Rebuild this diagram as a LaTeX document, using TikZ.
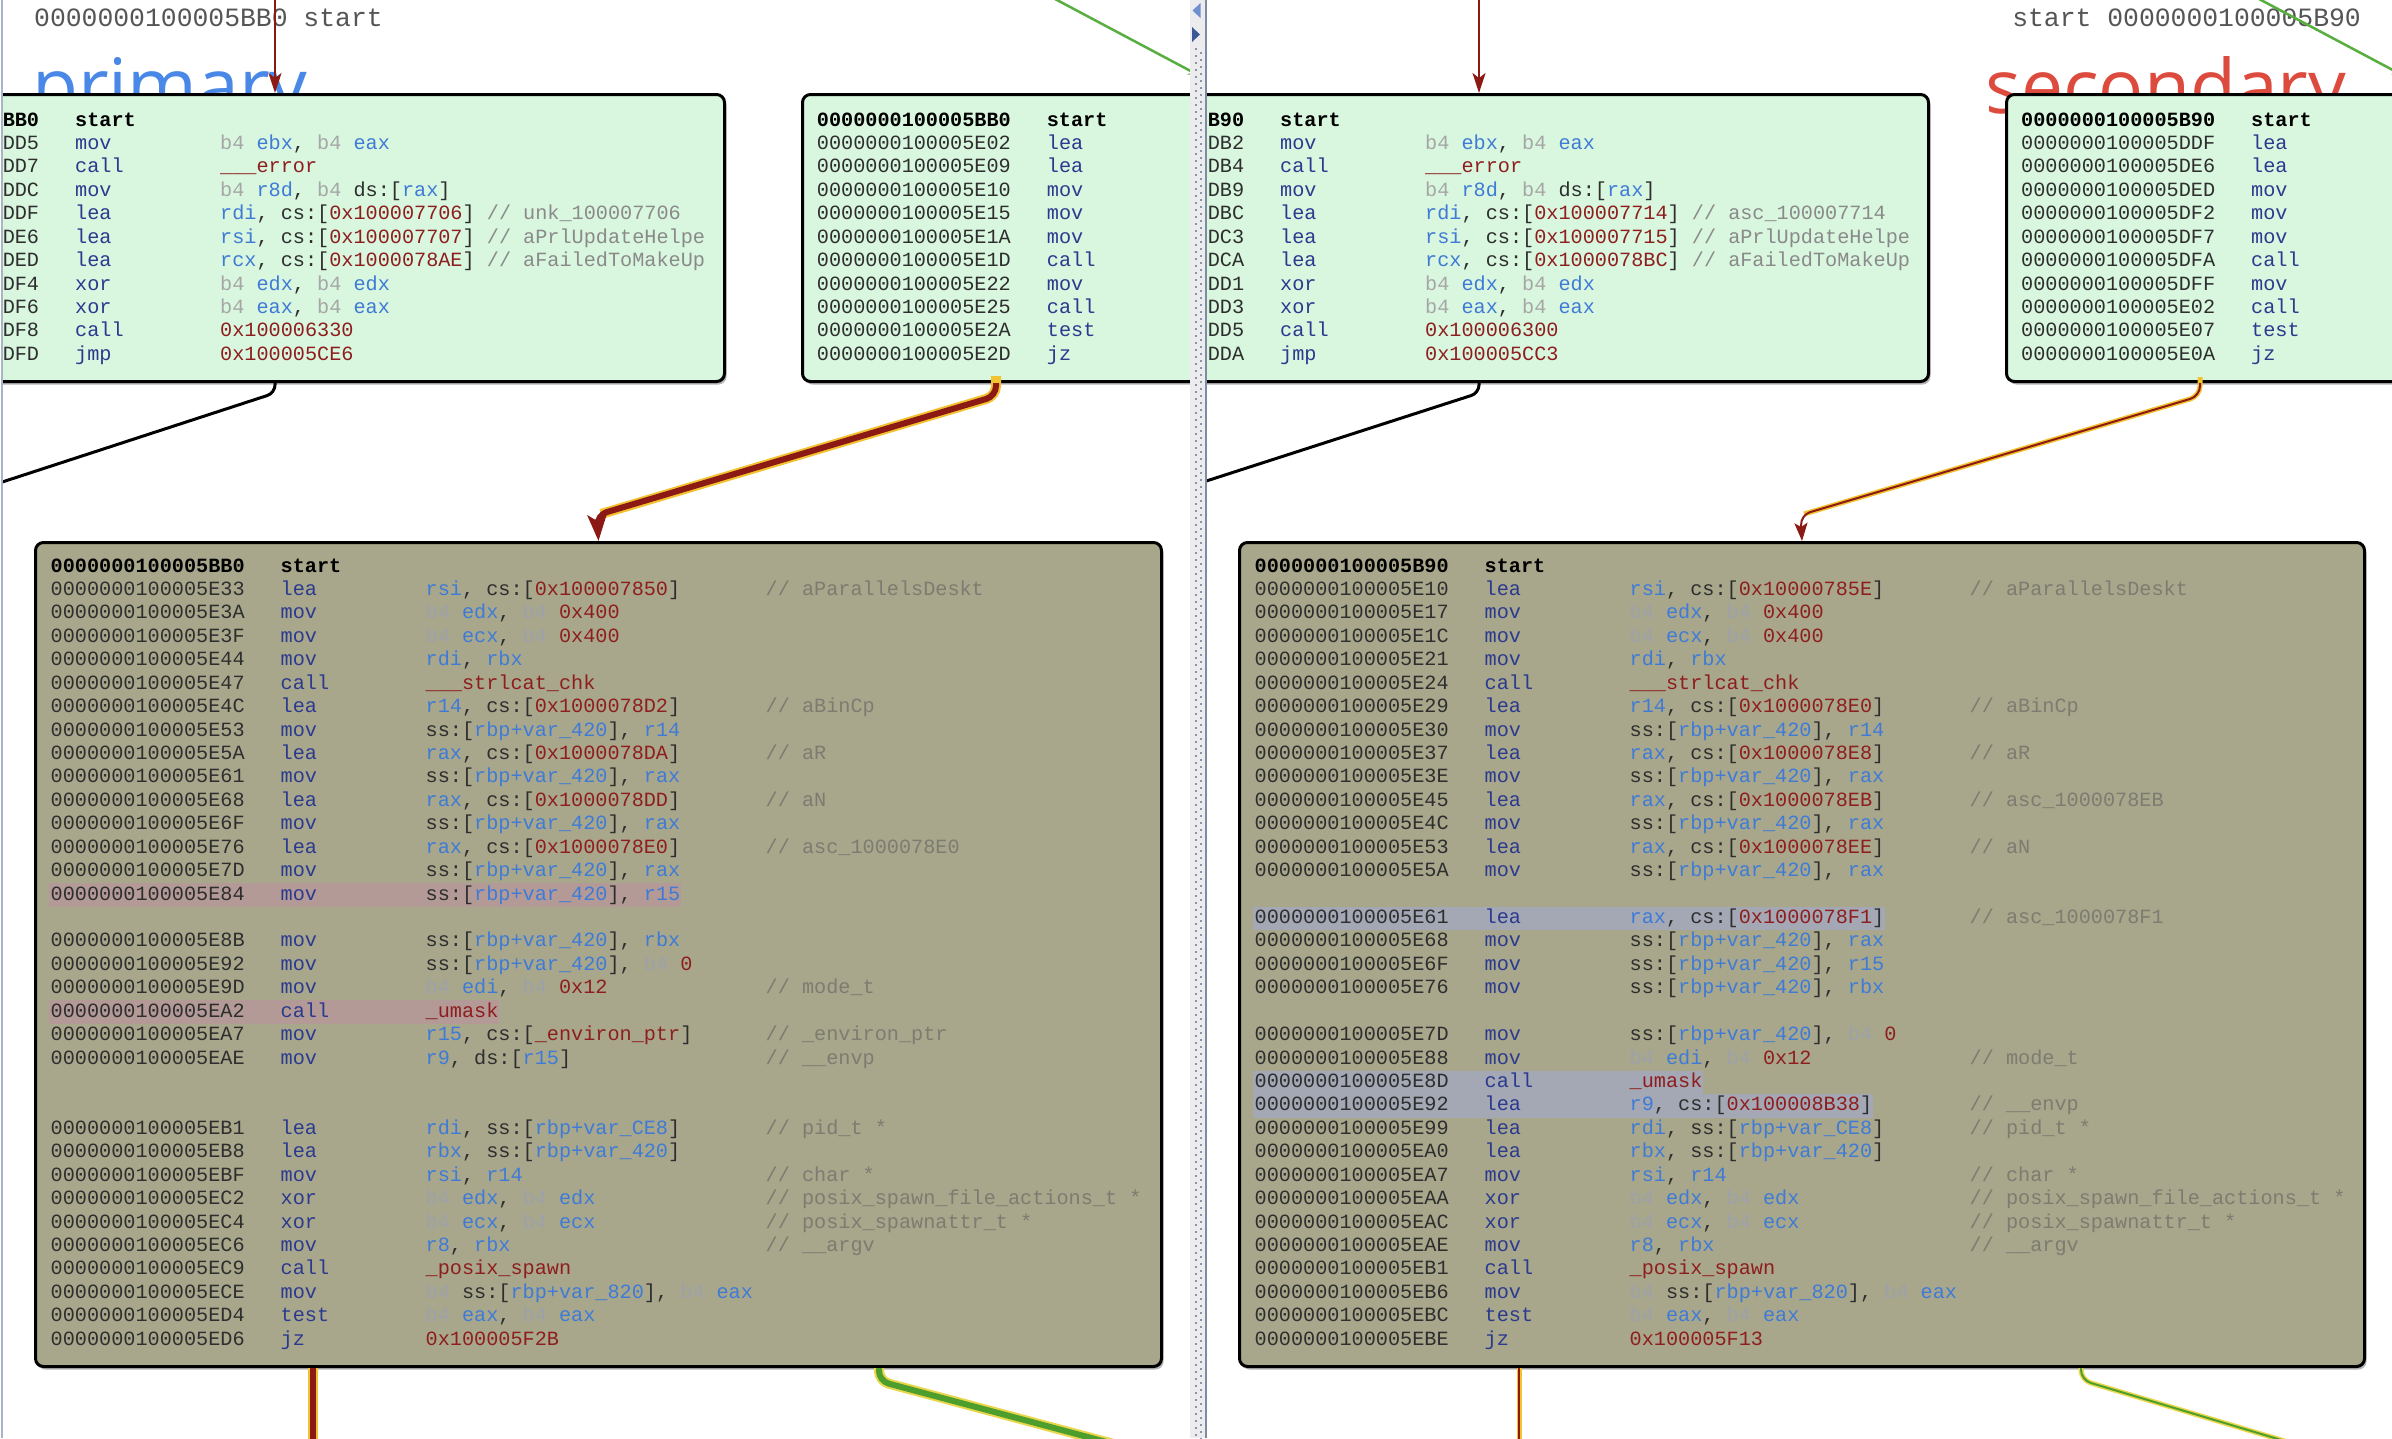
\documentclass[tikz,border=0pt]{standalone}
\usepackage{fontspec}
\setmonofont{Liberation Mono}
\newfontfamily\labelsans{Open Sans}
\usetikzlibrary{arrows.meta,shadows}

\definecolor{cgreen}{HTML}{D9F6DF}
\definecolor{colive}{HTML}{A8A78C}
\definecolor{cadr}{HTML}{2E2E2E}
\definecolor{cmn}{HTML}{2B3A8E}
\definecolor{creg}{HTML}{3F7BD6}
\definecolor{cnum}{HTML}{8E1E1E}
\definecolor{cbqg}{HTML}{A6A6A6}
\definecolor{cbqo}{HTML}{9EA2A8}
\definecolor{ccomg}{HTML}{8A8A8A}
\definecolor{ccomo}{HTML}{7C7C70}
\definecolor{cbq}{HTML}{A6A6A6}
\definecolor{ccom}{HTML}{8A8A8A}
\definecolor{chlp}{HTML}{B39A97}
\definecolor{chlb}{HTML}{A4A8B5}
\definecolor{cred}{HTML}{8C1A14}
\definecolor{cgold}{HTML}{F2C230}
\definecolor{cgrn}{HTML}{4E9E2E}
\definecolor{cylw}{HTML}{E9D64A}
\definecolor{cgl}{HTML}{58AE3E}
\definecolor{clbl}{HTML}{555555}
\definecolor{cprim}{HTML}{4A88E8}
\definecolor{csec}{HTML}{DD4B3E}
\definecolor{cshadow}{HTML}{B4B4B4}
\definecolor{cdiv}{HTML}{ECECEF}
\definecolor{cdot}{HTML}{8A94A8}
\definecolor{cdivline}{HTML}{7D8BA3}
\definecolor{cpane}{HTML}{AAB4C6}
\definecolor{ctria}{HTML}{6F8FD0}
\definecolor{ctrib}{HTML}{3A5896}

\newcommand\codefont{\ttfamily\fontsize{20.2}{23.43}\selectfont\frenchspacing}
\newcommand\Bq{\textcolor{cbq}{b4}}
\newcommand\Rg[1]{\textcolor{creg}{#1}}
\newcommand\Nm[1]{\textcolor{cnum}{#1}}
\newcommand\Cm[1]{\textcolor{ccom}{#1}}
\newcommand\hdr[2]{\hbox{\bfseries\color{black}\hbox to 230pt{#1\hss}#2}}
\newcommand\trow[3]{\hbox{\hbox to 230pt{#1\hss}\hbox to 145pt{\textcolor{cmn}{#2}\hss}#3}}
\newcommand\crow[4]{\hbox{\hbox to 230pt{#1\hss}\hbox to 145pt{\textcolor{cmn}{#2}\hss}\hbox to 340pt{#3\hss}\Cm{#4}}}
\newsavebox\hlbox
\newlength\hlwd
\newcommand\hrow[5]{\hbox{\sbox\hlbox{#4}\setlength\hlwd{\dimexpr 378pt+\wd\hlbox\relax}\kern-2pt\rlap{\textcolor{#1}{\vrule width\hlwd height 16.7pt depth 6.7pt}}\kern2pt\hbox to 230pt{#2\hss}\hbox to 145pt{\textcolor{cmn}{#3}\hss}\hbox to 340pt{\usebox\hlbox\hss}\Cm{#5}}}
\newcommand\brow{\hbox{}}
\newcommand\codeblock[1]{\vtop{\baselineskip=23.43pt\lineskiplimit=-200pt\lineskip=0pt\relax #1}}

\begin{document}
\begin{tikzpicture}[x=1pt,y=-1pt,
  gbox/.style={draw=black, line width=3pt, rounded corners=8pt, fill=cgreen, inner sep=0pt, anchor=north west, minimum height=287pt,
    drop shadow={shadow xshift=2pt,shadow yshift=-3pt,opacity=1,fill=cshadow}},
  obox/.style={draw=black, line width=3pt, rounded corners=8pt, fill=colive, inner sep=0pt, anchor=north west, minimum height=824pt,
    drop shadow={shadow xshift=2pt,shadow yshift=-3pt,opacity=1,fill=cshadow}},
  code/.style={inner sep=0pt, anchor=base west, font=\codefont, text=cadr},
  hdrlbl/.style={inner sep=0pt, font=\ttfamily\fontsize{26.4}{26.4}\selectfont, text=clbl},
  biglbl/.style={inner sep=0pt, anchor=base west, font=\labelsans\fontsize{75}{75}\selectfont},
  redarr/.style={draw=cred, line width=2pt, -{Stealth[length=20pt,width=13pt,inset=5pt]}},
  blackln/.style={draw=black, line width=3pt, rounded corners=8pt},
  greenln/.style={draw=cgl, line width=2.5pt, -{Stealth[length=12pt,width=9pt]}}
]
\useasboundingbox (0,0) rectangle (2392,1438);
\fill[white] (0,0) rectangle (2392,1438);

% ================= PANE 1 (primary) =================
\begin{scope}
\clip (3,0) rectangle (1190,1438);
\node[biglbl, text=cprim] (lprim) at (32,112) {primary};
\node[hdrlbl, anchor=base west] (hdr1) at (34,26) {0000000100005BB0 start};

\node[gbox, minimum width=1000pt] (p1a) at (-277,93) {};
\node[gbox, minimum width=600pt] (p1b) at (801,93) {};
\node[obox, minimum width=1126pt] (p1c) at (34,541) {};

\node[code] (p1a-t) at (-155,126) {\colorlet{cbq}{cbqg}\colorlet{ccom}{ccomg}\codeblock{%
\hdr{0000000100005BB0}{start}
\trow{0000000100005DD5}{mov}{\Bq{} \Rg{ebx}, \Bq{} \Rg{eax}}
\trow{0000000100005DD7}{call}{\Nm{\_\_\_error}}
\trow{0000000100005DDC}{mov}{\Bq{} \Rg{r8d}, \Bq{} ds:[\Rg{rax}]}
\trow{0000000100005DDF}{lea}{\Rg{rdi}, cs:[\Nm{0x100007706}] \Cm{// unk\_100007706}}
\trow{0000000100005DE6}{lea}{\Rg{rsi}, cs:[\Nm{0x100007707}] \Cm{// aPrlUpdateHelpe}}
\trow{0000000100005DED}{lea}{\Rg{rcx}, cs:[\Nm{0x1000078AE}] \Cm{// aFailedToMakeUp}}
\trow{0000000100005DF4}{xor}{\Bq{} \Rg{edx}, \Bq{} \Rg{edx}}
\trow{0000000100005DF6}{xor}{\Bq{} \Rg{eax}, \Bq{} \Rg{eax}}
\trow{0000000100005DF8}{call}{\Nm{0x100006330}}
\trow{0000000100005DFD}{jmp}{\Nm{0x100005CE6}}
}};

\node[code] (p1b-t) at (816.7,126) {\codeblock{%
\hdr{0000000100005BB0}{start}
\trow{0000000100005E02}{lea}{}
\trow{0000000100005E09}{lea}{}
\trow{0000000100005E10}{mov}{}
\trow{0000000100005E15}{mov}{}
\trow{0000000100005E1A}{mov}{}
\trow{0000000100005E1D}{call}{}
\trow{0000000100005E22}{mov}{}
\trow{0000000100005E25}{call}{}
\trow{0000000100005E2A}{test}{}
\trow{0000000100005E2D}{jz}{}
}};

\node[code] (p1c-t) at (50.5,572) {\colorlet{cbq}{cbqo}\colorlet{ccom}{ccomo}\codeblock{%
\hdr{0000000100005BB0}{start}
\crow{0000000100005E33}{lea}{\Rg{rsi}, cs:[\Nm{0x100007850}]}{// aParallelsDeskt}
\crow{0000000100005E3A}{mov}{\Bq{} \Rg{edx}, \Bq{} \Nm{0x400}}{}
\crow{0000000100005E3F}{mov}{\Bq{} \Rg{ecx}, \Bq{} \Nm{0x400}}{}
\crow{0000000100005E44}{mov}{\Rg{rdi}, \Rg{rbx}}{}
\crow{0000000100005E47}{call}{\Nm{\_\_\_strlcat\_chk}}{}
\crow{0000000100005E4C}{lea}{\Rg{r14}, cs:[\Nm{0x1000078D2}]}{// aBinCp}
\crow{0000000100005E53}{mov}{ss:[\Rg{rbp+var\_420}], \Rg{r14}}{}
\crow{0000000100005E5A}{lea}{\Rg{rax}, cs:[\Nm{0x1000078DA}]}{// aR}
\crow{0000000100005E61}{mov}{ss:[\Rg{rbp+var\_420}], \Rg{rax}}{}
\crow{0000000100005E68}{lea}{\Rg{rax}, cs:[\Nm{0x1000078DD}]}{// aN}
\crow{0000000100005E6F}{mov}{ss:[\Rg{rbp+var\_420}], \Rg{rax}}{}
\crow{0000000100005E76}{lea}{\Rg{rax}, cs:[\Nm{0x1000078E0}]}{// asc\_1000078E0}
\crow{0000000100005E7D}{mov}{ss:[\Rg{rbp+var\_420}], \Rg{rax}}{}
\hrow{chlp}{0000000100005E84}{mov}{ss:[\Rg{rbp+var\_420}], \Rg{r15}}{}
\brow
\crow{0000000100005E8B}{mov}{ss:[\Rg{rbp+var\_420}], \Rg{rbx}}{}
\crow{0000000100005E92}{mov}{ss:[\Rg{rbp+var\_420}], \Bq{} \Nm{0}}{}
\crow{0000000100005E9D}{mov}{\Bq{} \Rg{edi}, \Bq{} \Nm{0x12}}{// mode\_t}
\hrow{chlp}{0000000100005EA2}{call}{\Nm{\_umask}}{}
\crow{0000000100005EA7}{mov}{\Rg{r15}, cs:[\Nm{\_environ\_ptr}]}{// \_environ\_ptr}
\crow{0000000100005EAE}{mov}{\Rg{r9}, ds:[\Rg{r15}]}{// \_\_envp}
\brow
\brow
\crow{0000000100005EB1}{lea}{\Rg{rdi}, ss:[\Rg{rbp+var\_CE8}]}{// pid\_t *}
\crow{0000000100005EB8}{lea}{\Rg{rbx}, ss:[\Rg{rbp+var\_420}]}{}
\crow{0000000100005EBF}{mov}{\Rg{rsi}, \Rg{r14}}{// char *}
\crow{0000000100005EC2}{xor}{\Bq{} \Rg{edx}, \Bq{} \Rg{edx}}{// posix\_spawn\_file\_actions\_t *}
\crow{0000000100005EC4}{xor}{\Bq{} \Rg{ecx}, \Bq{} \Rg{ecx}}{// posix\_spawnattr\_t *}
\crow{0000000100005EC6}{mov}{\Rg{r8}, \Rg{rbx}}{// \_\_argv}
\crow{0000000100005EC9}{call}{\Nm{\_posix\_spawn}}{}
\crow{0000000100005ECE}{mov}{\Bq{} ss:[\Rg{rbp+var\_820}], \Bq{} \Rg{eax}}{}
\crow{0000000100005ED4}{test}{\Bq{} \Rg{eax}, \Bq{} \Rg{eax}}{}
\crow{0000000100005ED6}{jz}{\Nm{0x100005F2B}}{}
}};

% connectors pane 1
\coordinate (a1top) at (275,-5);
\draw[redarr] (a1top) -- (a1top |- p1a.north);
\coordinate (b1a) at (275,393);
\coordinate (b1b) at (-10,486);
\draw[blackln] (p1a.south -| b1a) -- (b1a) -- (b1b);
\coordinate (r1s) at (996,376);
\coordinate (r1a) at (996,396);
\coordinate (r1b) at (597,515);
\coordinate (r1g) at (601,514);
\draw[cgold, line width=10pt, rounded corners=10pt] (r1s) -- (r1a) -- (r1g);
\draw[cred, line width=6pt, rounded corners=10pt, -{Stealth[length=26pt,width=19pt,inset=6pt]}] (r1a |- p1b.south) -- (r1a) -- (r1b) -- (p1c.north);
\coordinate (g1s) at (1040,-9);
\coordinate (g1e) at (1200,76);
\draw[greenln] (g1s) -- (g1e);
\coordinate (v1) at (313,1450);
\draw[cgold, line width=10pt] (v1 |- p1c.south) -- (v1);
\draw[cred, line width=6pt] (v1 |- p1c.south) -- (v1);
\coordinate (gr1a) at (879,1381);
\coordinate (gr1b) at (1140,1451);
\draw[cylw, line width=10pt, rounded corners=10pt] (gr1a |- p1c.south) -- (gr1a) -- (gr1b);
\draw[cgrn, line width=6pt, rounded corners=10pt] (gr1a |- p1c.south) -- (gr1a) -- (gr1b);
\end{scope}

% ================= PANE 2 (secondary) =================
\begin{scope}
\clip (1207,0) rectangle (2392,1438);
\node[biglbl, text=csec] (lsec) at (1985,113) {secondary};
\node[hdrlbl, anchor=base east] (hdr2) at (2361,26) {start 0000000100005B90};

\node[gbox, minimum width=927pt] (p2a) at (1000,93) {};
\node[gbox, minimum width=500pt] (p2b) at (2005,93) {};
\node[obox, minimum width=1125pt] (p2c) at (1238,541) {};

\node[code] (p2a-t) at (1050,126) {\colorlet{cbq}{cbqg}\colorlet{ccom}{ccomg}\codeblock{%
\hdr{0000000100005B90}{start}
\trow{0000000100005DB2}{mov}{\Bq{} \Rg{ebx}, \Bq{} \Rg{eax}}
\trow{0000000100005DB4}{call}{\Nm{\_\_\_error}}
\trow{0000000100005DB9}{mov}{\Bq{} \Rg{r8d}, \Bq{} ds:[\Rg{rax}]}
\trow{0000000100005DBC}{lea}{\Rg{rdi}, cs:[\Nm{0x100007714}] \Cm{// asc\_100007714}}
\trow{0000000100005DC3}{lea}{\Rg{rsi}, cs:[\Nm{0x100007715}] \Cm{// aPrlUpdateHelpe}}
\trow{0000000100005DCA}{lea}{\Rg{rcx}, cs:[\Nm{0x1000078BC}] \Cm{// aFailedToMakeUp}}
\trow{0000000100005DD1}{xor}{\Bq{} \Rg{edx}, \Bq{} \Rg{edx}}
\trow{0000000100005DD3}{xor}{\Bq{} \Rg{eax}, \Bq{} \Rg{eax}}
\trow{0000000100005DD5}{call}{\Nm{0x100006300}}
\trow{0000000100005DDA}{jmp}{\Nm{0x100005CC3}}
}};

\node[code] (p2b-t) at (2021,126) {\codeblock{%
\hdr{0000000100005B90}{start}
\trow{0000000100005DDF}{lea}{}
\trow{0000000100005DE6}{lea}{}
\trow{0000000100005DED}{mov}{}
\trow{0000000100005DF2}{mov}{}
\trow{0000000100005DF7}{mov}{}
\trow{0000000100005DFA}{call}{}
\trow{0000000100005DFF}{mov}{}
\trow{0000000100005E02}{call}{}
\trow{0000000100005E07}{test}{}
\trow{0000000100005E0A}{jz}{}
}};

\node[code] (p2c-t) at (1254.5,572) {\colorlet{cbq}{cbqo}\colorlet{ccom}{ccomo}\codeblock{%
\hdr{0000000100005B90}{start}
\crow{0000000100005E10}{lea}{\Rg{rsi}, cs:[\Nm{0x10000785E}]}{// aParallelsDeskt}
\crow{0000000100005E17}{mov}{\Bq{} \Rg{edx}, \Bq{} \Nm{0x400}}{}
\crow{0000000100005E1C}{mov}{\Bq{} \Rg{ecx}, \Bq{} \Nm{0x400}}{}
\crow{0000000100005E21}{mov}{\Rg{rdi}, \Rg{rbx}}{}
\crow{0000000100005E24}{call}{\Nm{\_\_\_strlcat\_chk}}{}
\crow{0000000100005E29}{lea}{\Rg{r14}, cs:[\Nm{0x1000078E0}]}{// aBinCp}
\crow{0000000100005E30}{mov}{ss:[\Rg{rbp+var\_420}], \Rg{r14}}{}
\crow{0000000100005E37}{lea}{\Rg{rax}, cs:[\Nm{0x1000078E8}]}{// aR}
\crow{0000000100005E3E}{mov}{ss:[\Rg{rbp+var\_420}], \Rg{rax}}{}
\crow{0000000100005E45}{lea}{\Rg{rax}, cs:[\Nm{0x1000078EB}]}{// asc\_1000078EB}
\crow{0000000100005E4C}{mov}{ss:[\Rg{rbp+var\_420}], \Rg{rax}}{}
\crow{0000000100005E53}{lea}{\Rg{rax}, cs:[\Nm{0x1000078EE}]}{// aN}
\crow{0000000100005E5A}{mov}{ss:[\Rg{rbp+var\_420}], \Rg{rax}}{}
\brow
\hrow{chlb}{0000000100005E61}{lea}{\Rg{rax}, cs:[\Nm{0x1000078F1}]}{// asc\_1000078F1}
\crow{0000000100005E68}{mov}{ss:[\Rg{rbp+var\_420}], \Rg{rax}}{}
\crow{0000000100005E6F}{mov}{ss:[\Rg{rbp+var\_420}], \Rg{r15}}{}
\crow{0000000100005E76}{mov}{ss:[\Rg{rbp+var\_420}], \Rg{rbx}}{}
\brow
\crow{0000000100005E7D}{mov}{ss:[\Rg{rbp+var\_420}], \Bq{} \Nm{0}}{}
\crow{0000000100005E88}{mov}{\Bq{} \Rg{edi}, \Bq{} \Nm{0x12}}{// mode\_t}
\hrow{chlb}{0000000100005E8D}{call}{\Nm{\_umask}}{}
\hrow{chlb}{0000000100005E92}{lea}{\Rg{r9}, cs:[\Nm{0x100008B38}]}{// \_\_envp}
\crow{0000000100005E99}{lea}{\Rg{rdi}, ss:[\Rg{rbp+var\_CE8}]}{// pid\_t *}
\crow{0000000100005EA0}{lea}{\Rg{rbx}, ss:[\Rg{rbp+var\_420}]}{}
\crow{0000000100005EA7}{mov}{\Rg{rsi}, \Rg{r14}}{// char *}
\crow{0000000100005EAA}{xor}{\Bq{} \Rg{edx}, \Bq{} \Rg{edx}}{// posix\_spawn\_file\_actions\_t *}
\crow{0000000100005EAC}{xor}{\Bq{} \Rg{ecx}, \Bq{} \Rg{ecx}}{// posix\_spawnattr\_t *}
\crow{0000000100005EAE}{mov}{\Rg{r8}, \Rg{rbx}}{// \_\_argv}
\crow{0000000100005EB1}{call}{\Nm{\_posix\_spawn}}{}
\crow{0000000100005EB6}{mov}{\Bq{} ss:[\Rg{rbp+var\_820}], \Bq{} \Rg{eax}}{}
\crow{0000000100005EBC}{test}{\Bq{} \Rg{eax}, \Bq{} \Rg{eax}}{}
\crow{0000000100005EBE}{jz}{\Nm{0x100005F13}}{}
}};

% connectors pane 2
\coordinate (a2top) at (1479,-5);
\draw[redarr] (a2top) -- (a2top |- p2a.north);
\coordinate (b2a) at (1479,393);
\coordinate (b2b) at (1197,484);
\draw[blackln] (p2a.south -| b2a) -- (b2a) -- (b2b);
\coordinate (r2s) at (2200,377);
\coordinate (r2a) at (2200,396);
\coordinate (r2b) at (1800.5,515);
\coordinate (r2g) at (1804,514);
\draw[cgold, line width=5pt, rounded corners=10pt] (r2s) -- (r2a) -- (r2g);
\draw[cred, line width=2pt, rounded corners=10pt, -{Stealth[length=18pt,width=13pt,inset=4pt]}] (r2a |- p2b.south) -- (r2a) -- (r2b) -- (p2c.north);
\coordinate (g2s) at (2244,-9);
\coordinate (g2e) at (2404,76);
\draw[greenln] (g2s) -- (g2e);
\coordinate (v2) at (1519,1450);
\draw[cgold, line width=5pt] (v2 |- p2c.south) -- (v2);
\draw[cred, line width=2pt] (v2 |- p2c.south) -- (v2);
\coordinate (gr2a) at (2081,1380);
\coordinate (gr2b) at (2318,1451);
\draw[cylw, line width=5pt, rounded corners=10pt] (gr2a |- p2c.south) -- (gr2a) -- (gr2b);
\draw[cgrn, line width=2pt, rounded corners=10pt] (gr2a |- p2c.south) -- (gr2a) -- (gr2b);
\end{scope}

% ================= frame: pane border and divider =================
\draw[cpane, line width=2pt] (2,0) -- (2,1438);
\fill[cdiv] (1190,0) rectangle (1207,1438);
\draw[cdot, line width=2pt, dash pattern=on 2pt off 5pt] (1196,48) -- (1196,1438);
\draw[cdot, line width=2pt, dash pattern=on 2pt off 5pt, dash phase=3.5pt] (1201,48) -- (1201,1438);
\draw[cdivline, line width=2pt] (1206,0) -- (1206,1438);
\fill[ctria] (1200.5,3) -- (1192.5,10.5) -- (1200.5,18) -- cycle;
\fill[ctrib] (1192,27) -- (1200,34.5) -- (1192,42) -- cycle;
\end{tikzpicture}
\end{document}
